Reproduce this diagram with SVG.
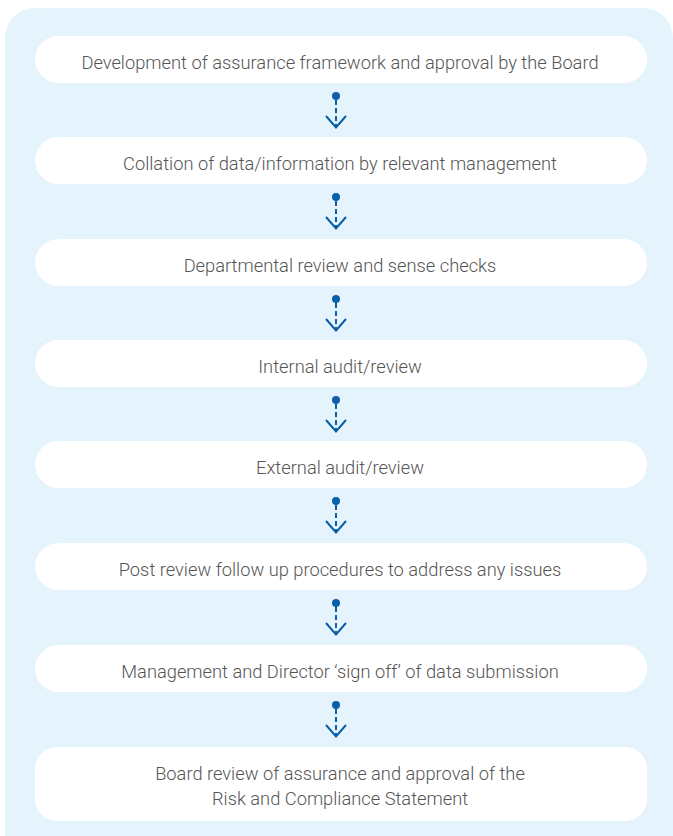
<svg xmlns="http://www.w3.org/2000/svg" width="673" height="836" viewBox="0 0 673 836">
<defs>
<style>
.bg{fill:#e5f4fc}
.box{fill:#ffffff}
.t{font-family:Roboto,"Liberation Sans",sans-serif;font-weight:300;font-size:18.3px;fill:#555555;text-anchor:middle}
.dash{stroke:#0b5ea8;stroke-width:2;stroke-dasharray:5 3;fill:none}
.chev{stroke:#0b5ea8;stroke-width:2;fill:none}
.dot{fill:#0b5ea8}
</style>
<g id="arrow">
<circle class="dot" cx="0" cy="0" r="4"/>
<line class="dash" x1="0" y1="4" x2="0" y2="31"/>
<polyline class="chev" points="-10,20 0,31.5 10,20"/>
</g>
</defs>
<path class="bg" d="M5,38 A30,30 0 0 1 35,8 L643,8 A30,30 0 0 1 673,38 L673,836 L5,836 Z"/>
<g id="n1"><rect class="box" x="35" y="36" width="612" height="47" rx="23.5"/><text class="t" x="340" y="68.5">Development of assurance framework and approval by the Board</text></g>
<g id="n2"><rect class="box" x="35" y="137" width="612" height="47" rx="23.5"/><text class="t" x="340" y="169.5">Collation of data/information by relevant management</text></g>
<g id="n3"><rect class="box" x="35" y="239" width="612" height="47" rx="23.5"/><text class="t" x="340" y="271.5">Departmental review and sense checks</text></g>
<g id="n4"><rect class="box" x="35" y="340" width="612" height="47" rx="23.5"/><text class="t" x="340" y="372.5">Internal audit/review</text></g>
<g id="n5"><rect class="box" x="35" y="441" width="612" height="47" rx="23.5"/><text class="t" x="340" y="473.5">External audit/review</text></g>
<g id="n6"><rect class="box" x="35" y="543" width="612" height="47" rx="23.5"/><text class="t" x="340" y="575.5">Post review follow up procedures to address any issues</text></g>
<g id="n7"><rect class="box" x="35" y="645" width="612" height="47" rx="23.5"/><text class="t" x="340" y="677.5">Management and Director ‘sign off’ of data submission</text></g>
<g id="n8"><rect class="box" x="35" y="747" width="612" height="74" rx="22"/><text class="t" x="340" y="780">Board review of assurance and approval of the</text><text class="t" x="340" y="805">Risk and Compliance Statement</text></g>
<g id="connectors">
<use href="#arrow" x="336" y="96"/>
<use href="#arrow" x="336" y="197"/>
<use href="#arrow" x="336" y="299"/>
<use href="#arrow" x="336" y="400"/>
<use href="#arrow" x="336" y="501"/>
<use href="#arrow" x="336" y="603"/>
<use href="#arrow" x="336" y="705"/>
</g>
</svg>
